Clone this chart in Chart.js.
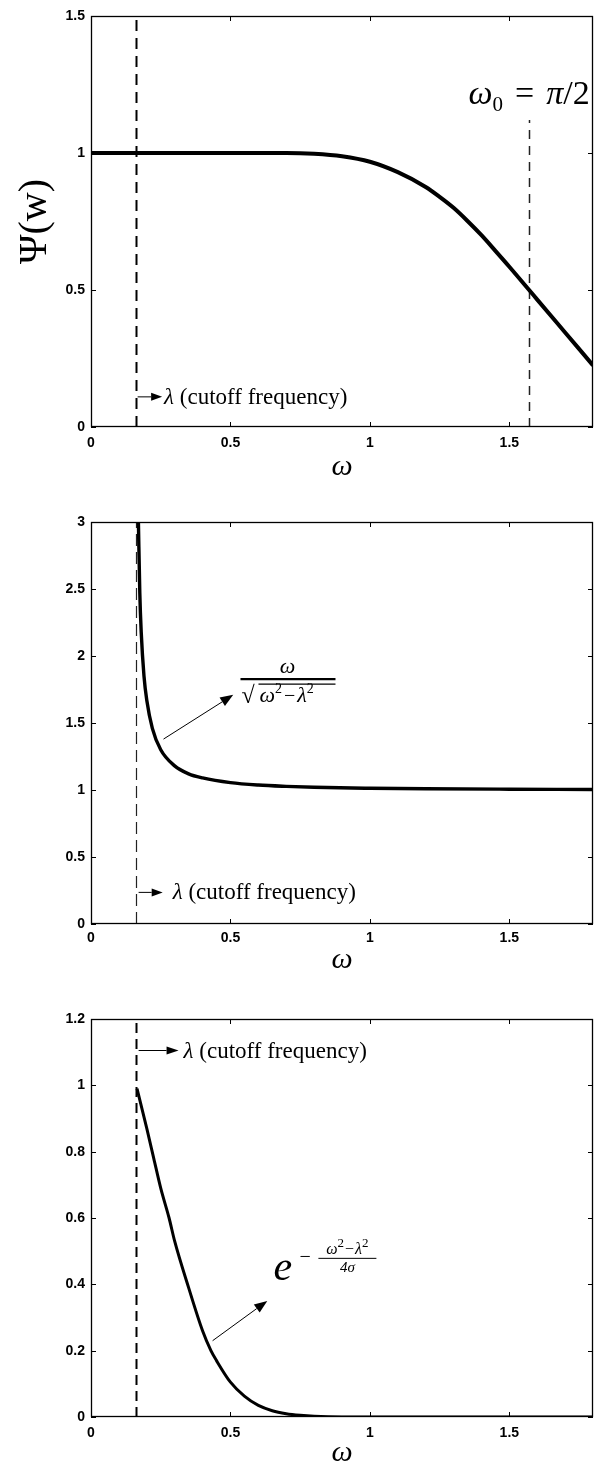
<!DOCTYPE html>
<html>
<head>
<meta charset="utf-8">
<script src="https://cdn.jsdelivr.net/npm/chart.js@4.4.1/dist/chart.umd.min.js"></script>
<style>
  html, body { margin: 0; padding: 0; background: #fff; }
  #wrap { position: relative; width: 595px; height: 1463px; overflow: hidden; }
  #wrap canvas { position: absolute; left: 0; }
</style>
</head>
<body>
<div id="wrap">
  <canvas id="psiChart"></canvas>
  <canvas id="ratioChart"></canvas>
  <canvas id="expChart"></canvas>
</div>
<script>
// ---- values ----
const lambdaCut = 0.16;   // cutoff frequency λ
const omegaZero = 1.571;  // ω0 = π/2

const xTicks     = [0, 0.5, 1, 1.5];
const psiTicks   = [0, 0.5, 1, 1.5];
const ratioTicks = [0, 0.5, 1, 1.5, 2, 2.5, 3];
const expTicks   = [0, 0.2, 0.4, 0.6, 0.8, 1, 1.2];

// top panel: Ψ(ω)
const psiOmega = [0, 0.2, 0.4, 0.6, 0.7, 0.8, 0.9, 1.0, 1.1, 1.2, 1.25, 1.3, 1.35, 1.4, 1.45, 1.5, 1.571, 1.6, 1.7, 1.8];
const psiValue = [1, 1, 1, 1, 1, 0.997, 0.988, 0.968, 0.93, 0.876, 0.84, 0.80, 0.752, 0.70, 0.643, 0.585, 0.50, 0.465, 0.345, 0.225];

// middle panel: ω / sqrt(ω² − λ²)
const ratioOmega = [0.17, 0.175, 0.18, 0.19, 0.2, 0.22, 0.25, 0.3, 0.35, 0.4, 0.5, 0.6, 0.7, 0.8, 1.0, 1.2, 1.5, 1.8];
const ratioValue = [3.0, 2.47, 2.18, 1.85, 1.67, 1.46, 1.30, 1.18, 1.12, 1.09, 1.055, 1.037, 1.027, 1.02, 1.013, 1.009, 1.006, 1.004];

// bottom panel: exp(−(ω² − λ²) / 4σ)
const expOmega = [0.165, 0.2, 0.225, 0.25, 0.28, 0.3, 0.35, 0.4, 0.43, 0.45, 0.5, 0.55, 0.6, 0.65, 0.7, 0.75, 0.8, 0.9, 1.0, 1.2, 1.5, 1.8];
const expValue = [0.99, 0.87, 0.78, 0.69, 0.60, 0.53, 0.39, 0.26, 0.20, 0.17, 0.105, 0.063, 0.035, 0.019, 0.010, 0.005, 0.002, 0, 0, 0, 0, 0];

const SERIF = '"Liberation Serif", "DejaVu Serif", serif';
const SANS  = '"Liberation Sans", Arial, sans-serif';
const serif = (size, italic) => (italic ? 'italic ' : '') + size + 'px ' + SERIF;

// ---- drawing helpers ----
function drawRun(ctx, x, y, pieces, align) {
  let width = 0;
  pieces.forEach(p => { ctx.font = p.font; width += (p.gap || 0) + ctx.measureText(p.text).width; });
  let cx = align === 'center' ? x - width / 2 : x;
  pieces.forEach(p => {
    ctx.font = p.font;
    cx += p.gap || 0;
    ctx.fillText(p.text, cx, y + (p.dy || 0));
    cx += ctx.measureText(p.text).width;
  });
}

function drawArrow(ctx, x0, y0, x1, y1, head, halfWidth) {
  const ang = Math.atan2(y1 - y0, x1 - x0);
  const bx = x1 - head * Math.cos(ang), by = y1 - head * Math.sin(ang);
  ctx.beginPath();
  ctx.moveTo(x0, y0);
  ctx.lineTo(bx, by);
  ctx.stroke();
  ctx.beginPath();
  ctx.moveTo(x1, y1);
  ctx.lineTo(bx + halfWidth * Math.sin(ang), by - halfWidth * Math.cos(ang));
  ctx.lineTo(bx - halfWidth * Math.sin(ang), by + halfWidth * Math.cos(ang));
  ctx.closePath();
  ctx.fill();
}

// frame, inward ticks, dashed markers and annotations
const marksPlugin = {
  id: 'marks',
  beforeDatasetsDraw(chart, args, opts) {
    const { ctx } = chart;
    const xs = chart.scales.x, ys = chart.scales.y;
    ctx.save();
    (opts.vlines || []).forEach(v => {
      const px = Math.round(xs.getPixelForValue(v.at)) + 0.5;
      ctx.beginPath();
      ctx.setLineDash(v.dash);
      ctx.lineWidth = v.width;
      ctx.strokeStyle = v.color || '#000';
      ctx.moveTo(px, ys.getPixelForValue(v.from));
      ctx.lineTo(px, ys.getPixelForValue(v.to));
      ctx.stroke();
    });
    ctx.restore();
  },
  afterDatasetsDraw(chart, args, opts) {
    const { ctx, chartArea: a } = chart;
    const xs = chart.scales.x, ys = chart.scales.y;
    ctx.save();
    ctx.setLineDash([]);
    ctx.strokeStyle = '#000';
    ctx.fillStyle = '#000';
    ctx.lineWidth = 1.3;
    ctx.strokeRect(a.left + 0.5, a.top + 0.5, a.width - 1, a.height - 1);

    const tl = 5;
    ctx.lineWidth = 1;
    ctx.beginPath();
    xs.ticks.forEach(t => {
      const px = Math.round(xs.getPixelForValue(t.value)) + 0.5;
      ctx.moveTo(px, a.bottom); ctx.lineTo(px, a.bottom - tl);
      ctx.moveTo(px, a.top);    ctx.lineTo(px, a.top + tl);
    });
    ys.ticks.forEach(t => {
      const py = Math.round(ys.getPixelForValue(t.value)) + 0.5;
      ctx.moveTo(a.left, py);  ctx.lineTo(a.left + tl, py);
      ctx.moveTo(a.right, py); ctx.lineTo(a.right - tl, py);
    });
    ctx.stroke();

    (opts.arrows || []).forEach(ar => {
      ctx.lineWidth = ar.width || 1;
      drawArrow(ctx,
        xs.getPixelForValue(ar.from[0]) + (ar.fromDx || 0), ys.getPixelForValue(ar.from[1]),
        xs.getPixelForValue(ar.to[0]), ys.getPixelForValue(ar.to[1]),
        ar.head, ar.half);
    });

    ctx.textBaseline = 'alphabetic';
    (opts.labels || []).forEach(lb => {
      const ox = xs.getPixelForValue(lb.at[0]), oy = ys.getPixelForValue(lb.at[1]);
      (lb.runs || []).forEach(r => drawRun(ctx, ox + r.dx, oy + r.dy, r.pieces, r.align));
      (lb.rules || []).forEach(r => {
        ctx.lineWidth = r.width;
        ctx.beginPath();
        ctx.moveTo(ox + r.dx, oy + r.dy);
        ctx.lineTo(ox + r.dx + r.len, oy + r.dy);
        ctx.stroke();
      });
    });
    ctx.restore();
  }
};

function cutoffLabel(at, size) {
  return {
    at: at,
    runs: [{ dx: 0, dy: 7, pieces: [
      { text: 'λ', font: serif(size, true) },
      { text: ' (cutoff frequency)', font: serif(size) }
    ] }]
  };
}

function buildPanel(id, cfg) {
  const el = document.getElementById(id);
  el.width = 595;
  el.height = cfg.height;
  el.style.top = cfg.top + 'px';

  const tickFont = { family: SANS, size: 14, weight: 'bold' };
  const points = cfg.omega.map((w, i) => ({ x: w, y: cfg.values[i] }));

  return new Chart(el, {
    type: 'scatter',
    data: {
      datasets: [{
        data: points,
        showLine: true,
        borderColor: '#000',
        borderWidth: cfg.lineWidth,
        pointRadius: 0,
        cubicInterpolationMode: 'monotone'
      }]
    },
    options: {
      responsive: false,
      animation: false,
      events: [],
      layout: { padding: { top: cfg.plotTop - cfg.top, right: 2, left: 0, bottom: 0 } },
      plugins: {
        legend: { display: false },
        tooltip: { enabled: false },
        marks: cfg.marks
      },
      scales: {
        x: {
          type: 'linear', min: 0, max: 1.8,
          grid: { display: false, drawTicks: false }, border: { display: false },
          afterBuildTicks: s => { s.ticks = xTicks.map(v => ({ value: v })); },
          afterFit: s => { s.height = cfg.top + cfg.height - cfg.plotBottom; },
          ticks: { padding: cfg.tickPad, color: '#000', font: tickFont, maxRotation: 0, callback: v => String(v) },
          title: {
            display: true, text: 'ω', color: '#000',
            font: { family: SERIF, size: 30, style: 'italic', lineHeight: 1 },
            padding: { top: 0, bottom: cfg.titlePad }
          }
        },
        y: {
          type: 'linear', min: cfg.yTicks[0], max: cfg.yTicks[cfg.yTicks.length - 1],
          grid: { display: false, drawTicks: false }, border: { display: false },
          afterBuildTicks: s => { s.ticks = cfg.yTicks.map(v => ({ value: v })); },
          afterFit: s => { s.width = 91; },
          ticks: { padding: 6, color: '#000', font: tickFont, callback: v => String(v) },
          title: cfg.yTitle ? {
            display: true, text: cfg.yTitle, color: '#000',
            font: { family: SERIF, size: 40, lineHeight: 1 },
            padding: { top: 15, bottom: 0 }
          } : { display: false }
        }
      }
    },
    plugins: [marksPlugin]
  });
}

// ---- top: Ψ(ω) with ω0 = π/2 ----
buildPanel('psiChart', {
  top: 0, height: 490, plotTop: 16, plotBottom: 427, titlePad: 8, tickPad: 8,
  omega: psiOmega, values: psiValue, yTicks: psiTicks, yTitle: 'Ψ(w)', lineWidth: 4,
  marks: {
    vlines: [
      { at: lambdaCut, from: 0, to: 1.5, width: 2, dash: [11, 7] },
      { at: omegaZero, from: 0, to: 1.12, width: 1.5, dash: [9, 7], color: '#222' }
    ],
    arrows: [{ from: [lambdaCut, 0.11], fromDx: 2, to: [0.255, 0.11], head: 11, half: 4 }],
    labels: [
      cutoffLabel([0.262, 0.11], 23),
      { at: [1.354, 1.18], runs: [{ dx: 0, dy: 0, pieces: [
          { text: 'ω', font: serif(34, true) },
          { text: '0', font: serif(21), dy: 7 },
          { text: '=', font: serif(34), gap: 12 },
          { text: 'π', font: serif(34, true), gap: 12 },
          { text: '/2', font: serif(34) }
      ] }] }
    ]
  }
});

// ---- middle: ω / sqrt(ω² − λ²) ----
buildPanel('ratioChart', {
  top: 500, height: 490, plotTop: 522, plotBottom: 924, titlePad: 15, tickPad: 6,
  omega: ratioOmega, values: ratioValue, yTicks: ratioTicks, lineWidth: 3.4,
  marks: {
    vlines: [{ at: lambdaCut, from: 0, to: 3, width: 1.2, dash: [12, 6], color: '#222' }],
    arrows: [
      { from: [lambdaCut, 0.236], fromDx: 3, to: [0.257, 0.236], head: 11, half: 4 },
      { from: [0.26, 1.38], to: [0.51, 1.71], head: 13, half: 5 }
    ],
    labels: [
      cutoffLabel([0.293, 0.236], 23),
      { at: [0.536, 1.828],
        rules: [{ dx: 0, dy: 0, len: 95, width: 2.2 }, { dx: 18, dy: 5, len: 77, width: 1.3 }],
        runs: [
          { dx: 47, dy: -6, align: 'center', pieces: [{ text: 'ω', font: serif(22, true) }] },
          { dx: 1, dy: 24, pieces: [{ text: '√', font: serif(24) }] },
          { dx: 19, dy: 23, pieces: [
            { text: 'ω', font: serif(22, true) },
            { text: '2', font: serif(14), dy: -9 },
            { text: '−', font: serif(20), gap: 2 },
            { text: 'λ', font: serif(22, true), gap: 2 },
            { text: '2', font: serif(14), dy: -9 }
          ] }
        ] }
    ]
  }
});

// ---- bottom: exp(−(ω² − λ²) / 4σ) ----
buildPanel('expChart', {
  top: 995, height: 490, plotTop: 1019, plotBottom: 1417, titlePad: 17, tickPad: 8,
  omega: expOmega, values: expValue, yTicks: expTicks, lineWidth: 3,
  marks: {
    vlines: [{ at: lambdaCut, from: 0, to: 1.2, width: 2, dash: [10, 6] }],
    arrows: [
      { from: [lambdaCut, 1.105], fromDx: 3, to: [0.314, 1.105], head: 12, half: 4 },
      { from: [0.436, 0.23], to: [0.632, 0.35], head: 13, half: 5 }
    ],
    labels: [
      cutoffLabel([0.332, 1.105], 23),
      { at: [0.654, 0.412],
        rules: [{ dx: 45, dy: -22, len: 58, width: 1 }],
        runs: [
          { dx: 0, dy: 0, pieces: [{ text: 'e', font: serif(42, true) }] },
          { dx: 26, dy: -17, pieces: [{ text: '−', font: serif(20) }] },
          { dx: 74, dy: -26, align: 'center', pieces: [
            { text: 'ω', font: serif(16, true) },
            { text: '2', font: serif(13), dy: -7 },
            { text: '−', font: serif(16), gap: 1 },
            { text: 'λ', font: serif(16, true), gap: 1 },
            { text: '2', font: serif(13), dy: -7 }
          ] },
          { dx: 74, dy: -8, align: 'center', pieces: [{ text: '4σ', font: serif(15, true) }] }
        ] }
    ]
  }
});
</script>
</body>
</html>
